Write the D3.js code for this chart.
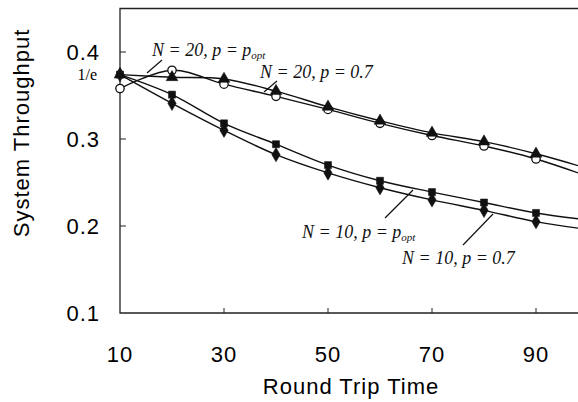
<!DOCTYPE html>
<html><head><meta charset="utf-8">
<script src="https://cdn.jsdelivr.net/npm/d3@7"></script>
<style>
body{margin:0;background:#fff;}
svg{display:block;}
</style></head>
<body><svg id="c" width="578" height="402"></svg>
<script>
const rtt = [10,20,30,40,50,60,70,80,90,100];
const n20pOpt = [0.358,0.379,0.363,0.349,0.334,0.318,0.304,0.292,0.277,0.257];
const n20p07  = [0.374,0.371,0.369,0.355,0.337,0.321,0.307,0.297,0.283,0.266];
const n10pOpt = [0.374,0.351,0.318,0.294,0.270,0.252,0.239,0.227,0.215,0.207];
const n10p07  = [0.374,0.341,0.310,0.282,0.261,0.244,0.230,0.218,0.205,0.196];
const xTicks = [10,30,50,70,90];
const yTicks = [0.1,0.2,0.3,0.4];
const invE = 1/Math.E;

const svg = d3.select("#c");
const x = d3.scaleLinear().domain([10,100]).range([120,588]);
const y = d3.scaleLinear().domain([0.1,0.45]).range([313,8.5]);

// frame
svg.append("path").attr("d",`M578,${y(0.45)}H${x(10)}V${y(0.1)}H578`)
  .attr("fill","none").attr("stroke","#222").attr("stroke-width",1.3);

// ticks inward
svg.append("g").selectAll("line").data(xTicks.slice(1)).join("line")
  .attr("x1",d=>x(d)).attr("x2",d=>x(d)).attr("y1",y(0.1)).attr("y2",y(0.1)-5)
  .attr("stroke","#222").attr("stroke-width",1);
svg.append("g").selectAll("line").data(yTicks.slice(1)).join("line")
  .attr("x1",x(10)).attr("x2",x(10)+6).attr("y1",d=>y(d)).attr("y2",d=>y(d))
  .attr("stroke","#222").attr("stroke-width",1);

const sans = "Liberation Sans, Arial, sans-serif";
// tick labels
svg.append("g").selectAll("text").data(xTicks).join("text")
  .attr("x",d=>x(d)).attr("y",362).attr("text-anchor","middle")
  .attr("font-family",sans).attr("font-size",22).attr("letter-spacing",1)
  .text(d=>d);
svg.append("g").selectAll("text").data(yTicks).join("text")
  .attr("x",100).attr("y",d=>y(d)+8).attr("text-anchor","end")
  .attr("font-family",sans).attr("font-size",22).attr("letter-spacing",1)
  .text(d=>d.toFixed(1));
svg.append("text").attr("x",97).attr("y",y(invE)).attr("text-anchor","end")
  .attr("font-family","Liberation Serif, Times New Roman, serif").attr("font-size",16)
  .text("1/e");

// axis titles
svg.append("text").attr("x",351).attr("y",394).attr("text-anchor","middle")
  .attr("font-family",sans).attr("font-size",22).attr("letter-spacing",1)
  .text("Round Trip Time");
svg.append("text").attr("transform","translate(29,133) rotate(-90)").attr("text-anchor","middle")
  .attr("font-family",sans).attr("font-size",22).attr("letter-spacing",1)
  .text("System Throughput");

// series
const series = [
  {vals:n20pOpt, sym:"circle"},
  {vals:n20p07, sym:"triangle"},
  {vals:n10pOpt, sym:"square"},
  {vals:n10p07, sym:"diamond"}
];
const line = d3.line().x(d=>x(d[0])).y(d=>y(d[1])).curve(d3.curveCatmullRom.alpha(0.5));
const symMap = {
  circle: d3.symbol().type(d3.symbolCircle).size(55),
  triangle: d3.symbol().type(d3.symbolTriangle).size(60),
  square: d3.symbol().type(d3.symbolSquare).size(50),
  diamond: d3.symbol().type(d3.symbolDiamond).size(60)
};
series.forEach(s=>{
  const pts = rtt.map((r,i)=>[r,s.vals[i]]);
  svg.append("path").attr("d",line(pts)).attr("fill","none")
    .attr("stroke","#111").attr("stroke-width",1.4);
});
series.forEach(s=>{
  const pts = rtt.map((r,i)=>[r,s.vals[i]]);
  svg.append("g").selectAll("path").data(pts).join("path")
    .attr("transform",d=>`translate(${x(d[0])},${y(d[1])})`)
    .attr("d",symMap[s.sym]())
    .attr("fill",s.sym==="circle"?"#fff":"#111")
    .attr("stroke","#111").attr("stroke-width",s.sym==="circle"?1.3:0.5);
});

// annotations
const lab = svg.append("g").attr("font-family","Liberation Serif, Times New Roman, serif")
  .attr("font-style","italic").attr("font-size",18).attr("fill","#111");
function label(tx,ty,main,sub){
  const t = lab.append("text").attr("x",tx).attr("y",ty);
  t.append("tspan").text(main);
  if(sub) t.append("tspan").attr("font-size",11).attr("dy",3).text(sub);
}
label(152,56,"N = 20, p = p","opt");
label(260,78,"N = 20, p = 0.7");
label(302,238,"N = 10, p = p","opt");
label(402,264,"N = 10, p = 0.7");
const leaders = [[162,60,147,73],[277,81,264,92],[385,218,413,190],[463,245,493,214]];
svg.append("g").selectAll("line").data(leaders).join("line")
  .attr("x1",d=>d[0]).attr("y1",d=>d[1]).attr("x2",d=>d[2]).attr("y2",d=>d[3])
  .attr("stroke","#111").attr("stroke-width",1.2);
</script></body></html>
